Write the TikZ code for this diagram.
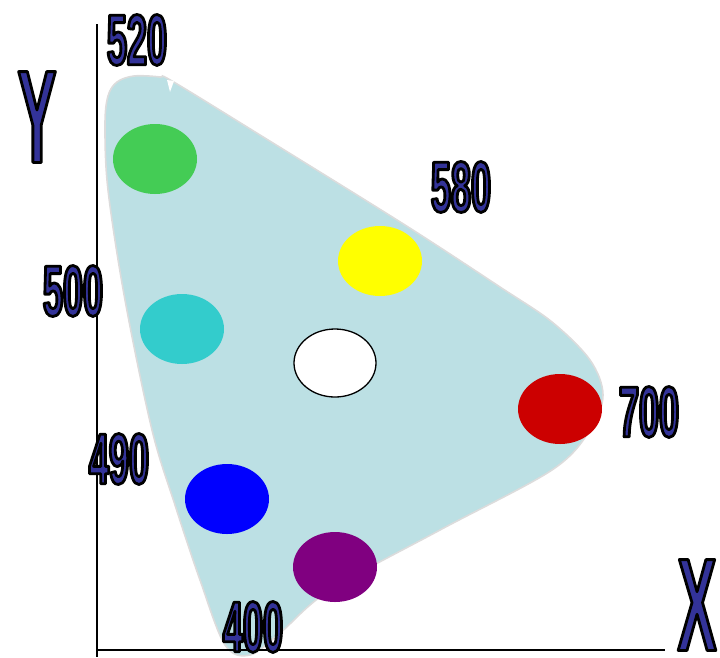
\documentclass[tikz,border=0pt]{standalone}
\usepackage{fontspec}
\setmainfont{Liberation Sans}
\newfontfamily\labfont[FakeStretch=0.5]{Liberation Sans Bold}
\newfontfamily\axfont[FakeStretch=0.44]{Liberation Sans Bold}
\definecolor{labblue}{HTML}{333399}
\definecolor{gamut}{HTML}{BCE0E4}
\definecolor{gamutedge}{HTML}{DCDCDC}
\definecolor{cgreen}{HTML}{44CC55}
\definecolor{cyellow}{HTML}{FFFF00}
\definecolor{ccyan}{HTML}{33CCCC}
\definecolor{cred}{HTML}{CC0000}
\definecolor{cblue}{HTML}{0000FF}
\definecolor{cpurple}{HTML}{800080}
\newcommand{\outl}[1]{{\color{labblue}\special{pdf:literal direct 0 0 0 RG 2.8 w 1 j 2 Tr}#1\special{pdf:literal direct 0 Tr}}}
\usetikzlibrary{shapes.geometric}
\tikzset{
  spot/.style={ellipse, minimum width=84pt, minimum height=70pt, inner sep=0pt},
  numlab/.style={inner sep=0pt, font=\labfont\fontsize{72}{72}\selectfont},
  axlab/.style={inner sep=0pt, font=\axfont\fontsize{132}{132}\selectfont},
  axis/.style={line width=1.6pt, black}
}
\begin{document}
\begin{tikzpicture}[x=1pt,y=-1pt]
\useasboundingbox (0,0) rectangle (720,657);
% gamut region
\fill[gamut, draw=gamutedge, line width=1.6pt]
  plot[smooth cycle, tension=0.55] coordinates {
    (134,76) (160,77) (172,81) (260,135) (405,225) (500,287) (552,322)
    (590,360) (603,395) (590,430) (552,470)
    (440,530) (330,590) (280,633) (250,655) (225,645)
    (200,580) (175,505) (152,430) (125,300) (108,190) (105,125) (108,96) (117,82)};
\fill[white] (167,80) -- (174,81) -- (170,92) -- cycle;
% colour spots
\node[spot, fill=cgreen]  (green)  at (155,159) {};
\node[spot, fill=cyellow] (yellow) at (380,261) {};
\node[spot, fill=ccyan]   (cyan)   at (182,329) {};
\node[spot, fill=white, draw=black, line width=1.3pt, minimum width=82pt, minimum height=68pt] (white) at (335,363) {};
\node[spot, fill=cred]    (red)    at (560,409) {};
\node[spot, fill=cblue]   (blue)   at (227,499) {};
\node[spot, fill=cpurple] (purple) at (335,567) {};
% axes
\coordinate (ytop) at (97,24);
\coordinate (ybot) at (97,657);
\coordinate (origin) at (97,650);
\coordinate (xend) at (665,650);
\draw[axis] (ytop) -- (ybot);
\draw[axis] (origin) -- (xend);
% labels
\node[numlab] (l520) at (137,40) {\outl{520}};
\node[numlab] (l580) at (461,187) {\outl{580}};
\node[numlab] (l500) at (73,291) {\outl{500}};
\node[numlab] (l700) at (649,412) {\outl{700}};
\node[numlab] (l490) at (119,459) {\outl{490}};
\node[numlab] (l400) at (253,627) {\outl{400}};
\node[axlab] (ly) at (37,117) {\outl{Y}};
\node[axlab] (lx) at (697,605) {\outl{X}};
\end{tikzpicture}
\end{document}
